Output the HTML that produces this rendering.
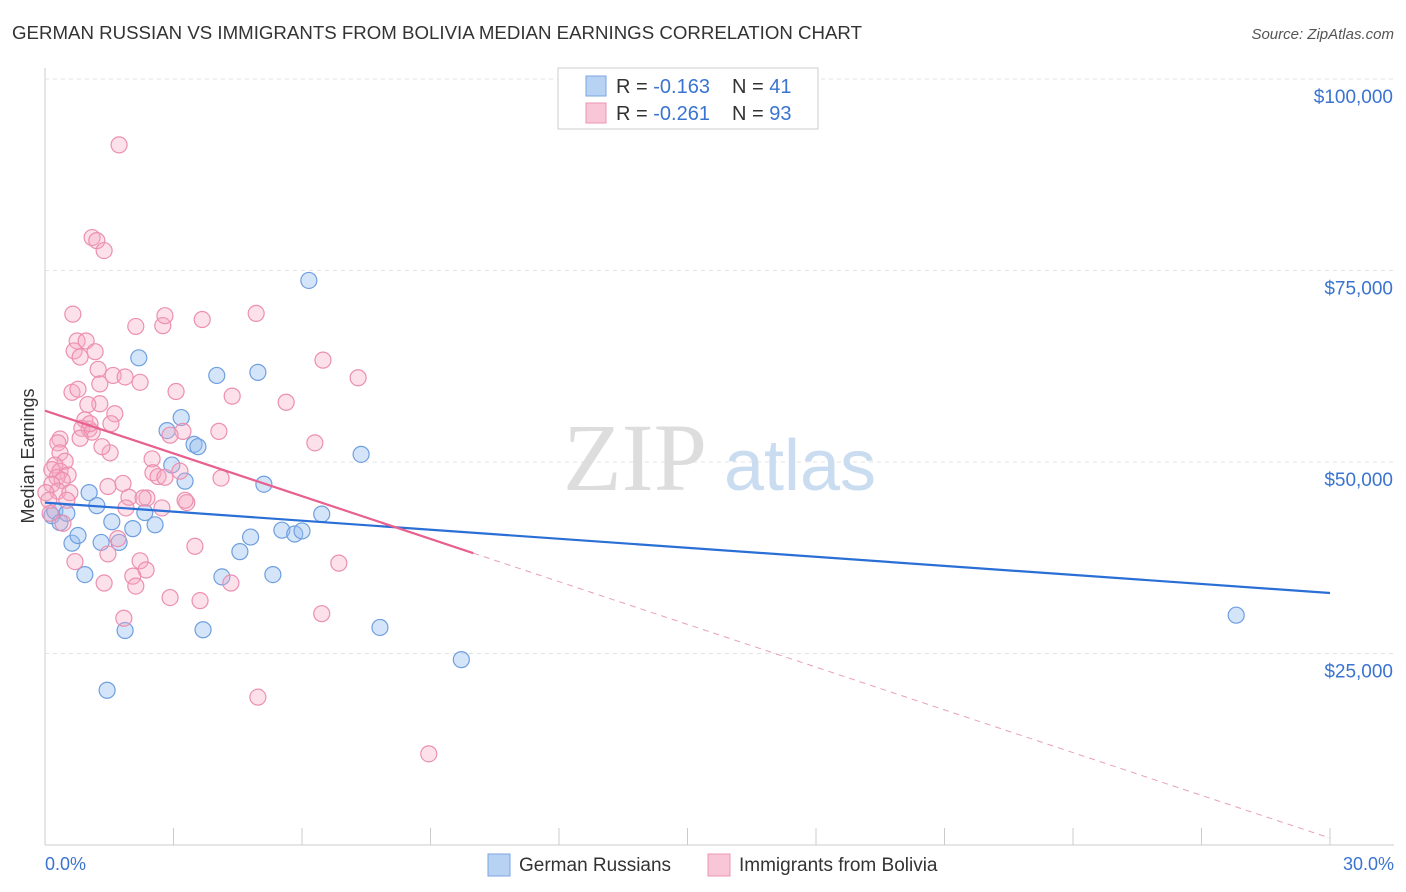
<!DOCTYPE html>
<html><head><meta charset="utf-8"><style>
body{margin:0;background:#fff;font-family:"Liberation Sans",sans-serif;}
#c{position:absolute;left:0;top:0;}
</style></head><body>
<svg id="c" width="1406" height="892">
<text x="12" y="39" font-size="18" fill="#333" textLength="850" lengthAdjust="spacingAndGlyphs">GERMAN RUSSIAN VS IMMIGRANTS FROM BOLIVIA MEDIAN EARNINGS CORRELATION CHART</text>
<text x="1394" y="39" font-size="15" fill="#555" text-anchor="end" font-style="italic">Source: ZipAtlas.com</text>
<g id="grid"></g>
<text x="635" y="490" font-size="96" fill="#ddd" font-family="Liberation Serif" text-anchor="middle">ZIP</text>
<text x="800" y="490" font-size="72" fill="#c9dcf0" text-anchor="middle">atlas</text>
<g id="pts"></g>
<g id="trend"></g>
<text transform="translate(34,456) rotate(-90)" font-size="18" fill="#333" text-anchor="middle">Median Earnings</text>
<text x="45" y="870" font-size="18" fill="#3a74d0">0.0%</text>
<text x="1394" y="870" font-size="18" fill="#3a74d0" text-anchor="end">30.0%</text>
<g>
<rect x="558" y="68" width="260" height="61" fill="#fff" stroke="#ccc"/>
<rect x="586" y="76" width="20" height="20" fill="#b8d2f3" stroke="#7aa6e0"/>
<rect x="586" y="103" width="20" height="20" fill="#f8c6d6" stroke="#eb95b3"/>
<text x="616" y="93" font-size="20" fill="#333">R = <tspan fill="#3a74d0">-0.163</tspan></text>
<text x="732" y="93" font-size="20" fill="#333">N =  <tspan fill="#3a74d0">41</tspan></text>
<text x="616" y="120" font-size="20" fill="#333">R = <tspan fill="#3a74d0">-0.261</tspan></text>
<text x="732" y="120" font-size="20" fill="#333">N = <tspan fill="#3a74d0">93</tspan></text>
</g>
<g>
<rect x="488" y="854" width="22" height="22" fill="#b8d2f3" stroke="#7aa6e0"/>
<text x="519" y="871" font-size="19" fill="#333">German Russians</text>
<rect x="708" y="854" width="22" height="22" fill="#f8c6d6" stroke="#eb95b3"/>
<text x="739" y="871" font-size="19" fill="#333">Immigrants from Bolivia</text>
</g>
</svg>
<script>
const yTicks=[25000,50000,75000,100000];
const yTickLabels=["$25,000","$50,000","$75,000","$100,000"];
const blueX=[0.16,0.23,0.35,0.51,0.63,0.77,0.93,1.03,1.21,1.31,1.45,1.56,1.73,1.87,2.05,2.19,2.33,2.57,2.85,2.96,3.18,3.27,3.48,3.57,3.69,4.01,4.13,4.55,4.80,4.97,5.11,5.32,5.53,5.83,6.00,6.16,6.46,7.38,7.82,9.72,27.81];
const blueY=[43000,43600,42100,43300,39400,40400,35300,46000,44300,39500,20200,42200,39500,28000,41300,63600,43400,41800,54100,49600,55800,47500,52300,52000,28100,61300,35000,38300,40200,61700,47100,35300,41100,40600,41000,73700,43200,51000,28400,24200,30000];
const pinkX=[1.73,1.10,1.21,1.38,0.65,0.75,0.96,0.68,1.17,0.82,2.12,2.75,2.80,3.67,4.93,6.49,7.31,1.24,1.59,1.87,2.22,1.28,0.63,0.77,3.06,4.37,5.63,1.28,1.00,1.63,0.93,1.03,0.86,1.10,0.82,0.35,0.30,3.22,4.06,2.92,6.30,1.52,0.35,0.47,0.23,0.16,0.35,0.54,0.28,0.40,0.16,0.30,0.58,2.50,3.15,2.52,2.64,4.11,1.82,1.47,1.96,2.38,2.29,3.31,1.89,2.73,0.02,0.09,0.42,1.47,2.22,2.36,3.50,6.86,1.38,2.05,2.12,4.34,2.92,1.84,6.46,4.97,8.96,0.12,0.51,1.05,1.54,1.33,3.27,1.70,0.70,2.80,3.62];
const pinkY=[91400,79300,78900,77600,69300,65800,65800,64500,64400,63700,67700,67800,69100,68600,69400,63300,61000,62100,61300,61100,60400,60200,59100,59500,59200,58600,57800,57600,57500,56300,55500,54300,54400,53900,53100,53000,52500,54000,54000,53500,52500,51200,51200,50100,49600,49000,48800,48300,48000,47600,47100,46200,46000,50400,48800,48600,48100,47900,47200,46800,45400,45300,45300,44700,44000,44000,46000,45000,42000,38000,37100,35900,39000,36800,34200,35100,33800,34200,32300,29600,30200,19300,11900,43300,45000,55000,55000,52000,45000,40000,37000,48000,31900];
const blueTrend=[44700,32900];
const pinkTrend=[56700,900];
const pinkSolidEnd=10;
const X=v=>45+v/30*1285, Y=v=>845-v/25000*191.5;
const NS="http://www.w3.org/2000/svg";
function mk(t,a,p){const e=document.createElementNS(NS,t);for(const k in a)e.setAttribute(k,a[k]);p.appendChild(e);return e;}
const g=document.getElementById('grid');
let ax=mk('line',{x1:45,y1:68,x2:45,y2:845,stroke:'#ccc'},g);


let bx=mk('line',{x1:45,y1:845,x2:1394,y2:845,stroke:'#ccc'},g);


mk('line',{x1:45,y1:79,x2:1394,y2:79,stroke:'#e3e3e3','stroke-dasharray':'4,4'},g);
yTicks.forEach((v,i)=>{
 const l=mk('line',{x1:45,y1:Y(v),x2:1394,y2:Y(v),stroke:'#e3e3e3','stroke-dasharray':'4,4'},g);
 
 
 const t=mk('text',{x:1393,y:Y(v)+24,'font-size':19,fill:'#3a74d0','text-anchor':'end'},g);
 t.textContent=yTickLabels[i];
 
 
});
for(let i=0;i<=10;i++){const l=mk('line',{x1:X(i*3),y1:828,x2:X(i*3),y2:845,stroke:'#ccc'},g);
 
 }
const p=document.getElementById('pts');
blueX.forEach((x,i)=>{const c=mk('circle',{cx:X(x),cy:Y(blueY[i]),r:8,fill:'rgba(150,190,240,0.4)',stroke:'#6f9fe0','stroke-width':1.2},p);
 
 });
pinkX.forEach((x,i)=>{const c=mk('circle',{cx:X(x),cy:Y(pinkY[i]),r:8,fill:'rgba(245,170,195,0.35)',stroke:'#ec8fb0','stroke-width':1.2},p);
 
 });
const tr=document.getElementById('trend');
let b=mk('line',{x1:X(0),y1:Y(blueTrend[0]),x2:X(30),y2:Y(blueTrend[1]),stroke:'#2a6fd6','stroke-width':2.2},tr);


const py=x=>pinkTrend[0]+(pinkTrend[1]-pinkTrend[0])*x/30;
let ps=mk('line',{x1:X(0),y1:Y(py(0)),x2:X(pinkSolidEnd),y2:Y(py(pinkSolidEnd)),stroke:'#e8608e','stroke-width':2.2},tr);


let pd=mk('line',{x1:X(pinkSolidEnd),y1:Y(py(pinkSolidEnd)),x2:X(30),y2:Y(py(30)),stroke:'#e8a0b8','stroke-width':1,'stroke-dasharray':'6,5'},tr);


</script>
</body></html>
